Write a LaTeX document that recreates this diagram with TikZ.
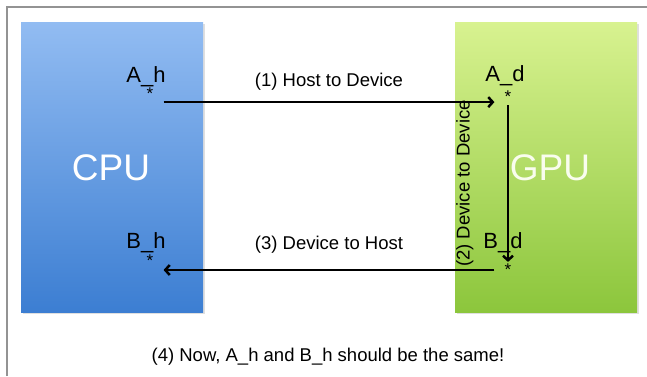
\documentclass[tikz,border=0pt]{standalone}
\usepackage{fontspec}
\setmainfont{Liberation Sans}
\usetikzlibrary{arrows.meta,shadows}
\definecolor{cputop}{HTML}{92BCF2}
\definecolor{cpubot}{HTML}{3C7ED2}
\definecolor{gputop}{HTML}{D8F290}
\definecolor{gpubot}{HTML}{8CC63C}
\newcommand{\lblfont}{\fontsize{18.5}{22}\selectfont}
\newcommand{\varfont}{\fontsize{22}{26}\selectfont}

\begin{document}
\begin{tikzpicture}[x=1pt, y=-1pt, ->, >={Straight Barb[length=4.5pt,width=10pt]}, line width=2.5pt,
  chip/.style={minimum width=182pt, minimum height=290pt, inner sep=0pt,
    drop shadow={shadow xshift=1.5pt, shadow yshift=-1.5pt, opacity=0.25}},
  chiptext/.style={text=white, font=\fontsize{37}{44}\selectfont},
  var/.style={anchor=base, inner sep=0pt, font=\varfont},
  ptr/.style={inner xsep=9pt, inner ysep=1pt, font=\fontsize{17}{19}\selectfont},
  lbl/.style={midway, font=\lblfont}]
\useasboundingbox (0,0) rectangle (647,376);
%
% outer frame
\draw[-, line width=1.2pt, gray!85] (7,376) -- (7,7) -- (647,7);
%
\node (CPU) [chip, top color=cputop, bottom color=cpubot] at (112,167) {};
\node (GPU) [chip, top color=gputop, bottom color=gpubot] at (546,167) {};
\node (CPUtxt) [chiptext] at (111,168) {CPU};
\node (GPUtxt) [chiptext, text=white!85!gputop] at (550,168) {GPU};
%
\node (Ah) [var] at (146,82) {A\_h};
\node (Bh) [var] at (146,248) {B\_h};
\node (Ad) [var] at (505,81) {A\_d};
\node (Bd) [var] at (503,248) {B\_d};
%
\node (sAh) [ptr] at (150,94) {*};
\node (sBh) [ptr] at (150,261) {*};
\node (sAd) [ptr] at (508,97) {*};
\node (sBd) [ptr] at (508,270) {*};
%
\path (sAh.south east) edge node [lbl, above=7pt] {(1) Host to Device} (sAh.south east -| sAd.west);
\path (sAd.south) edge node [lbl, rotate=90, above=30pt] {(2) Device to Device} (sBd.north);
\path (sBd.west) edge node [lbl, above=12pt] {(3) Device to Host} (sBd.west -| sBh.east);
%
\node (Note) [font=\lblfont] at (328,357) {(4) Now, A\_h and B\_h should be the same!};
\end{tikzpicture}
\end{document}
